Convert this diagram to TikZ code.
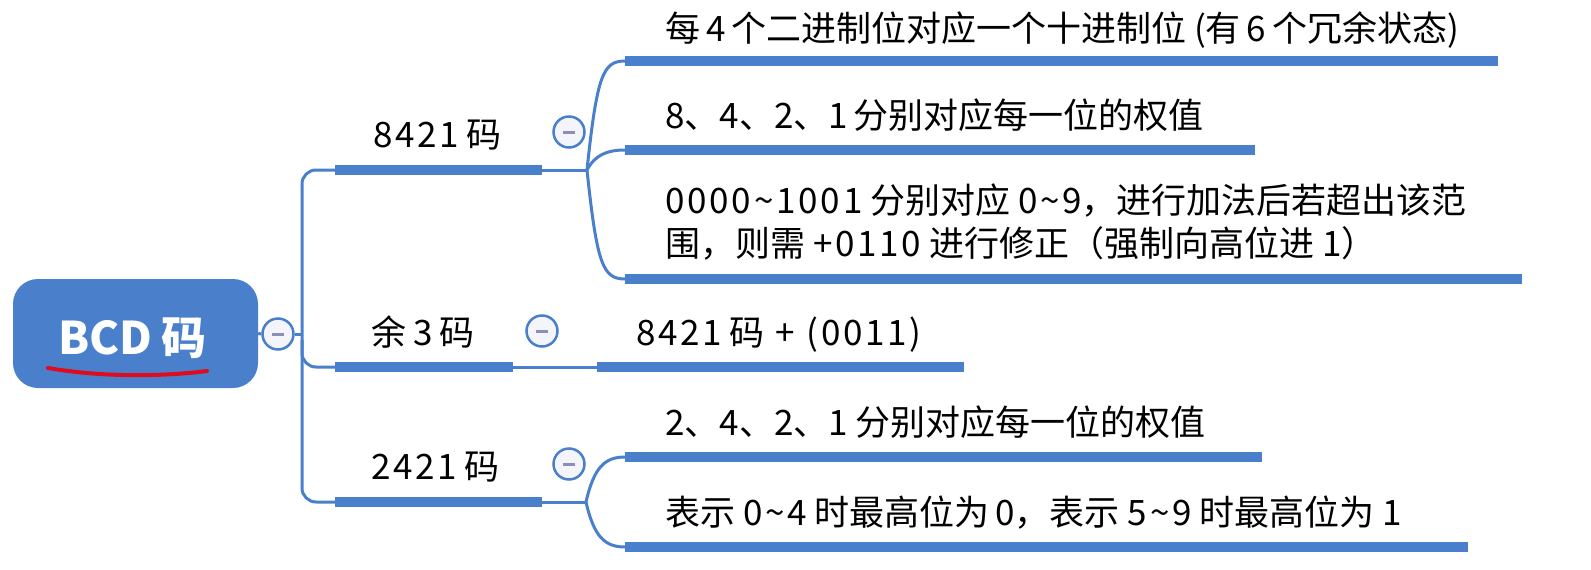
\documentclass[tikz,border=0pt]{standalone}
\usepackage{fontspec}
\setmainfont{Noto Sans CJK SC}
\definecolor{mmblue}{HTML}{4A80CB}
\definecolor{mmred}{HTML}{E00B1C}
\definecolor{dashc}{HTML}{8D8EB6}
\definecolor{foldfill}{HTML}{F3F5FA}
\newcommand{\gp}{\hspace{0.2em}}
\newcommand{\dg}[1]{{\addfontfeatures{LetterSpace=8}#1}}
\tikzset{
  conn/.style={draw=mmblue, line width=3pt},
  bar/.style={draw=mmblue, line width=10pt, line cap=butt},
  lbl/.style={anchor=base west, inner sep=0pt, font=\fontsize{35}{43}\selectfont},
  fold/.style={circle, draw=mmblue, line width=2.5pt, fill=foldfill, minimum size=31pt, inner sep=0pt,
    path picture={\draw[dashc, line width=3pt] ([xshift=-6pt]path picture bounding box.center) -- ([xshift=6pt]path picture bounding box.center);}},
  rootbox/.style={rectangle, rounded corners=25pt, fill=mmblue, minimum width=245pt, minimum height=109pt, inner sep=0pt},
  roottext/.style={text=white, inner sep=0pt, font=\fontsize{45}{52}\selectfont\bfseries}
}
\begin{document}
\begin{tikzpicture}[x=1pt, y=-1pt]
\useasboundingbox (0,0) rectangle (1591,570);
% root
\node[rootbox] (root) at (135.5,333.5) {};
\node[roottext] (roottxt) at (132.5,338) {BCD\gp 码};
\draw[mmred, line width=4pt, line cap=round] (48,368) .. controls (100,377) and (160,377) .. (207,371);
\node[fold] (f0) at (278,334) {};
% coordinates
\coordinate (tk0) at (302,334);
\coordinate (tk1) at (302,170);
\coordinate (tk2a) at (302,340);
\coordinate (tk2) at (302,367);
\coordinate (tk3) at (302,502);
\coordinate (b1s) at (335,170); \coordinate (b1e) at (542,170); \coordinate (j1) at (587,170);
\coordinate (b2s) at (335,367); \coordinate (b2e) at (513,367); \coordinate (c2s) at (597,367); \coordinate (c2e) at (964,367);
\coordinate (b3s) at (335,502); \coordinate (b3e) at (542,502); \coordinate (j3) at (586,502);
\coordinate (c11s) at (625,61);  \coordinate (c11e) at (1498,61);
\coordinate (c12s) at (625,150); \coordinate (c12e) at (1255,150);
\coordinate (c13s) at (625,279); \coordinate (c13e) at (1522,279);
\coordinate (c31s) at (625,457); \coordinate (c31e) at (1262,457);
\coordinate (c32s) at (625,547); \coordinate (c32e) at (1468,547);
% root links and trunk
\draw[conn] (root.east) -- (f0.west);
\draw[conn] (f0.east) -- (tk0);
\draw[conn, rounded corners=14pt] (b1s) -- (tk1) -- (tk3) -- (b3s);
\draw[conn, rounded corners=14pt] (tk2a) -- (tk2) -- (b2s);
% 8421
\draw[bar] (b1s) -- (b1e);
\draw[conn] (b1e) -- (j1);
\draw[conn] (j1) .. controls +(10,-95) and +(-22,0) .. (c11s);
\draw[conn] (j1) .. controls +(8,-15) and +(-18,0) .. (c12s);
\draw[conn] (j1) .. controls +(10,95) and +(-22,0) .. (c13s);
\draw[bar] (c11s) -- (c11e);
\draw[bar] (c12s) -- (c12e);
\draw[bar] (c13s) -- (c13e);
\node[fold] (f1) at (569,132) {};
% yu 3
\draw[bar] (b2s) -- (b2e);
\draw[conn] (b2e) -- (c2s);
\draw[bar] (c2s) -- (c2e);
\node[fold] (f2) at (542,331) {};
% 2421
\draw[bar] (b3s) -- (b3e);
\draw[conn] (b3e) -- (j3);
\draw[conn] (j3) .. controls +(8,-35) and +(-20,0) .. (c31s);
\draw[conn] (j3) .. controls +(8,35) and +(-20,0) .. (c32s);
\draw[bar] (c31s) -- (c31e);
\draw[bar] (c32s) -- (c32e);
\node[fold] (f3) at (569,464) {};
% texts
\node[lbl] (t1) at (373,147) {\dg{8421}\gp 码};
\node[lbl] (t2) at (371,345) {余\gp 3\gp 码};
\node[lbl] (t3) at (371,479) {\dg{2421}\gp 码};
\node[lbl] (t11) at (665,41) {每\,4\,个二进制位对应一个十进制位 (有\,6\,个冗余状态)};
\node[lbl] (t12) at (665,128) {8、4、2、1\,分别对应每一位的权值};
\node[lbl, anchor=north west, align=left] (t13) at (665,184) {\dg{0000\textasciitilde 1001} 分别对应 \dg{0\textasciitilde 9}，进行加法后若超出该范\\围，则需 \dg{+0110} 进行修正（强制向高位进 1）};
\node[lbl] (t21) at (636,345) {\dg{8421}\gp 码 \hspace{0.1em}+ \hspace{0.1em}\dg{(0011)}};
\node[lbl] (t31) at (665,435) {2、4、2、1 分别对应每一位的权值};
\node[lbl] (t32) at (665,525) {表示 \dg{0\textasciitilde 4} 时最高位为\,0，表示 \dg{5\textasciitilde 9} 时最高位为 1};
\end{tikzpicture}
\end{document}
